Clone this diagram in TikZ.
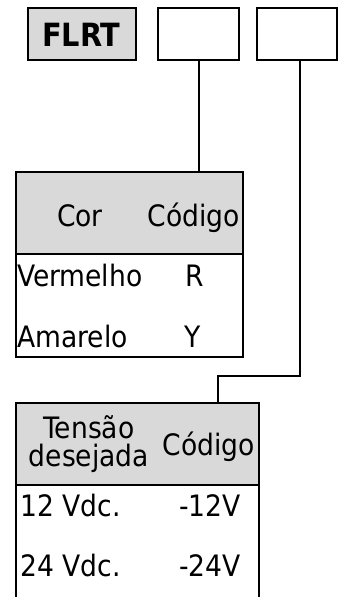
\documentclass[tikz,border=0pt]{standalone}
\usepackage{fontspec}
\setmainfont{DejaVu Sans Condensed}
\begin{document}
\begin{tikzpicture}[x=1pt,y=-1pt,
  box/.style={draw=black,line width=2.1pt,inner sep=0pt,outer sep=0pt},
  hdr/.style={box,fill=gray!30},
  txt/.style={inner sep=0pt,anchor=base,font=\fontsize{29.5}{27}\selectfont},
  conn/.style={line width=2.1pt}]
\useasboundingbox (0,0) rectangle (345,597);
% top code boxes
\node[hdr,minimum width=108pt,minimum height=51.7pt] (flrt) at (81.7,34.2) {};
\node[txt,font=\fontsize{32}{27}\selectfont\bfseries] (flrtt) at (81.2,46) {FLRT};
\node[box,minimum width=81pt,minimum height=51.7pt] (b2) at (198.5,34.2) {};
\node[box,minimum width=80.6pt,minimum height=51.7pt] (b3) at (297,34.2) {};
% table 1
\node[hdr,minimum width=227pt,minimum height=82pt] (t1h) at (129.2,213.3) {};
\node[box,minimum width=227pt,minimum height=103pt] (t1b) at (129.2,305.8) {};
\node[txt] (cor) at (80,226) {Cor};
\node[txt] (cod1) at (194,226) {Código};
\node[txt,anchor=base west] (verm) at (17,286.7) {Vermelho};
\node[txt] (r) at (194.3,286.7) {R};
\node[txt,anchor=base west] (amar) at (17,347.3) {Amarelo};
\node[txt] (y) at (193,347.3) {Y};
% table 2
\node[hdr,minimum width=243pt,minimum height=82.3pt] (t2h) at (137.2,443.8) {};
\node[box,minimum width=243pt,minimum height=140pt] (t2b) at (137.2,555) {};
\node[txt] (tens) at (89,438) {Tensão};
\node[txt] (des) at (89,466) {desejada};
\node[txt] (cod2) at (209,455) {Código};
\node[txt,anchor=base west] (v12) at (20.5,516.7) {12 Vdc.};
\node[txt] (c12) at (210,516.7) {-12V};
\node[txt,anchor=base west] (v24) at (20.5,576.7) {24 Vdc.};
\node[txt] (c24) at (210,576.7) {-24V};
% connectors
\coordinate (k) at (218.3,375.7);
\draw[conn] ([xshift=0.5pt]b2.south) -- ([xshift=0.5pt]b2.south |- t1h.north);
\draw[conn] ([xshift=3pt]b3.south) |- (k) -- (k |- t2h.north);
\end{tikzpicture}
\end{document}
